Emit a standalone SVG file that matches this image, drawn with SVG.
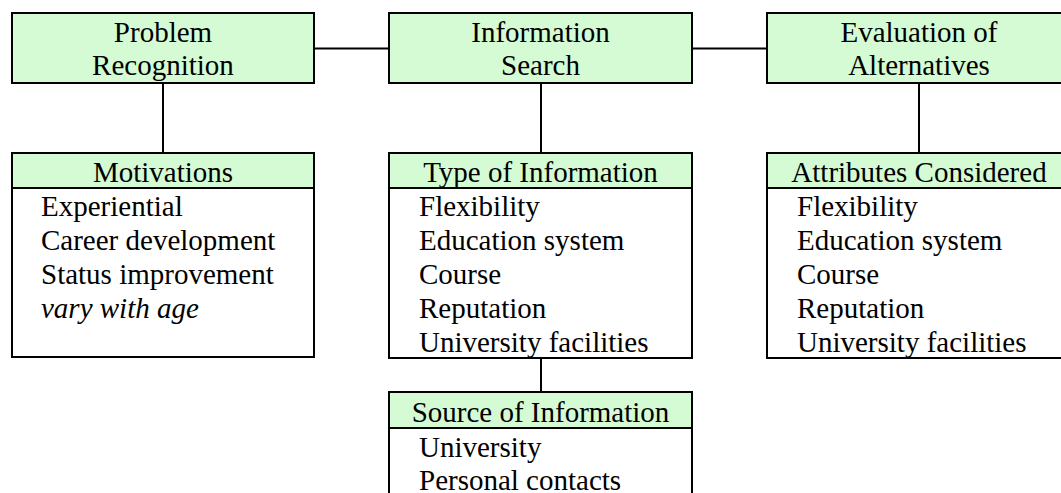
<svg xmlns="http://www.w3.org/2000/svg" width="1061" height="493" viewBox="0 0 1061 493">
<style>
.box{fill:#ffffff;stroke:#000;stroke-width:2}
.hdr{fill:#d4fbd4;stroke:#000;stroke-width:2}
.t{font-family:"Liberation Serif","Times New Roman",serif;font-size:29px;fill:#000}
.c{text-anchor:middle}
.i{font-style:italic}
.ln{stroke:#000;stroke-width:2;fill:none}
</style>
<rect width="1061" height="493" fill="#ffffff"/>
<g id="connectors">
<line class="ln" x1="314" y1="48.5" x2="389" y2="48.5"/>
<line class="ln" x1="692" y1="48.5" x2="767" y2="48.5"/>
<line class="ln" x1="163" y1="83" x2="163" y2="153"/>
<line class="ln" x1="541" y1="83" x2="541" y2="153"/>
<line class="ln" x1="919" y1="83" x2="919" y2="153"/>
<line class="ln" x1="541" y1="358" x2="541" y2="392"/>
</g>
<g id="problem-recognition">
<rect class="hdr" x="12" y="13" width="302" height="70"/>
<text class="t c" x="163" y="42">Problem</text>
<text class="t c" x="163" y="75">Recognition</text>
</g>
<g id="information-search">
<rect class="hdr" x="389" y="13" width="303" height="70"/>
<text class="t c" x="540.5" y="42">Information</text>
<text class="t c" x="540.5" y="75">Search</text>
</g>
<g id="evaluation-of-alternatives">
<rect class="hdr" x="767" y="13" width="304" height="70"/>
<text class="t c" x="919" y="42">Evaluation of</text>
<text class="t c" x="919" y="75">Alternatives</text>
</g>
<g id="motivations">
<rect class="box" x="12" y="153" width="302" height="204"/>
<rect class="hdr" x="12" y="153" width="302" height="35"/>
<text class="t c" x="163" y="182">Motivations</text>
<text class="t" x="41" y="216">Experiential</text>
<text class="t" x="41" y="250">Career development</text>
<text class="t" x="41" y="284">Status improvement</text>
<text class="t i" x="41" y="318">vary with age</text>
</g>
<g id="type-of-information">
<rect class="box" x="389" y="153" width="303" height="205"/>
<rect class="hdr" x="389" y="153" width="303" height="35"/>
<text class="t c" x="540.5" y="182">Type of Information</text>
<text class="t" x="419" y="216">Flexibility</text>
<text class="t" x="419" y="250">Education system</text>
<text class="t" x="419" y="284">Course</text>
<text class="t" x="419" y="318">Reputation</text>
<text class="t" x="419" y="352">University facilities</text>
</g>
<g id="attributes-considered">
<rect class="box" x="767" y="153" width="304" height="205"/>
<rect class="hdr" x="767" y="153" width="304" height="35"/>
<text class="t c" x="919" y="182">Attributes Considered</text>
<text class="t" x="797" y="216">Flexibility</text>
<text class="t" x="797" y="250">Education system</text>
<text class="t" x="797" y="284">Course</text>
<text class="t" x="797" y="318">Reputation</text>
<text class="t" x="797" y="352">University facilities</text>
</g>
<g id="source-of-information">
<rect class="box" x="389" y="392" width="303" height="120"/>
<rect class="hdr" x="389" y="392" width="303" height="36"/>
<text class="t c" x="540.5" y="422">Source of Information</text>
<text class="t" x="419" y="457">University</text>
<text class="t" x="419" y="490">Personal contacts</text>
</g>
</svg>
